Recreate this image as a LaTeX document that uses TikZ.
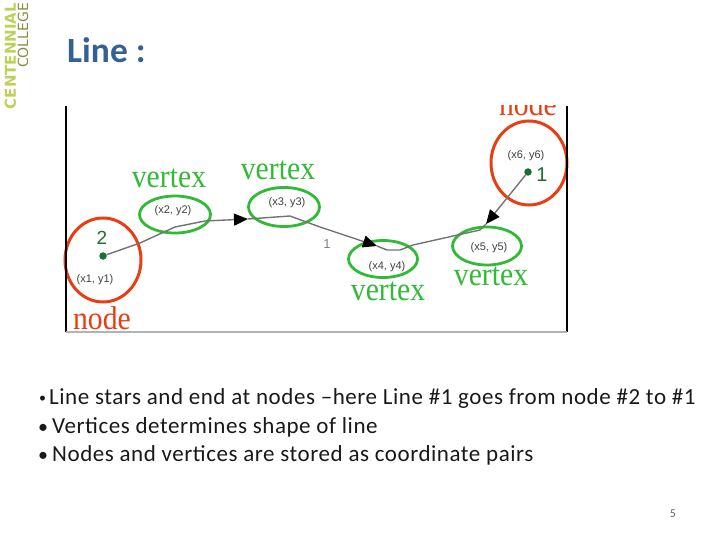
\documentclass[tikz,border=0pt]{standalone}
\usepackage{fontspec}
\setmainfont{Carlito}
\newfontfamily\bodyfont[LetterSpace=2.4]{Carlito}
\newfontfamily\serifpart[FakeStretch=0.9]{Liberation Serif}
\newfontfamily\logofont{DejaVu Sans}
\newfontfamily\smallfont{Liberation Sans}
\usetikzlibrary{arrows.meta,shapes.geometric}
\definecolor{titleblue}{RGB}{54,96,146}
\definecolor{nodered}{RGB}{232,62,20}
\definecolor{vertgreen}{RGB}{50,185,55}
\definecolor{dotgreen}{RGB}{30,110,50}
\definecolor{logogreen}{RGB}{190,208,90}
\definecolor{logoolive}{RGB}{140,140,70}
\tikzset{
  redring/.style={draw=nodered,line width=3pt,ellipse,inner sep=0pt},
  greenring/.style={draw=vertgreen,line width=2.8pt,ellipse,inner sep=0pt},
  dot/.style={circle,fill=dotgreen,inner sep=0pt,minimum size=7.5pt},
  serifword/.style={font=\serifpart\fontsize{33}{33}\selectfont,inner sep=0pt},
  coordtext/.style={font=\smallfont\fontsize{11}{11}\selectfont,text=black!75,inner sep=0pt},
  linetext/.style={font=\bodyfont\fontsize{23}{24}\selectfont,text=black!90,inner sep=0pt,anchor=base west},
  bulletmark/.style={font=\fontsize{20}{24}\selectfont,text=black!90,inner sep=0pt,anchor=base west},
  seg/.style={draw=black!55,line width=1.4pt},
  arrowseg/.style={seg,-{Triangle[black,length=14pt,width=12pt]}}
}
\begin{document}
\begin{tikzpicture}[x=1pt,y=-1pt]
\useasboundingbox (0,0) rectangle (720,540);

\node[rotate=90,font=\logofont\bfseries\fontsize{15}{15}\selectfont,text=logogreen,inner sep=0pt] (centennial) at (10.5,56) {CENTENNIAL};
\node[rotate=90,font=\logofont\fontsize{14}{15}\selectfont,text=logoolive,inner sep=0pt] (college) at (23,35.5) {COLLEGE};
\node[font=\bfseries\fontsize{35.5}{36}\selectfont,text=titleblue,inner sep=0pt,anchor=base west] (title) at (67,63) {Line :};

% rings
\node[redring,minimum width=76pt,minimum height=84pt] (nodetwo) at (103,260) {};
\node[redring,minimum width=76pt,minimum height=84pt] (nodeone) at (529,163) {};
\node[greenring,minimum width=71pt,minimum height=37pt] (verttwo) at (175,214.5) {};
\node[greenring,minimum width=71pt,minimum height=39pt] (vertthree) at (284,207) {};
\node[greenring,minimum width=69pt,minimum height=37pt] (vertfour) at (383,259) {};
\node[greenring,minimum width=69pt,minimum height=38pt] (vertfive) at (487,246) {};

% frame
\draw[black,line width=2.5pt] (66,106) -- (66,332);
\draw[black,line width=2.5pt] (567,106) -- (567,332);
\draw[black!30,line width=1.2pt] (66,332) -- (567,332);

% line
\node[dot] (starttwo) at (103,256) {};
\node[dot] (endone) at (528,172) {};
\coordinate (wa) at (140,243);
\coordinate (wb) at (175,227);
\coordinate (wc) at (205,221);
\coordinate (wd) at (248,219);
\coordinate (we) at (290,216);
\coordinate (wf) at (320,227);
\coordinate (wg) at (377,246);
\coordinate (wh) at (387,250);
\coordinate (wi) at (400,250);
\coordinate (wj) at (413,245);
\coordinate (wk) at (480,230);
\coordinate (wl) at (486,224);
\draw[seg] (starttwo) -- (wa) -- (wb) -- (wc);
\draw[arrowseg] (wc) -- (wd);
\draw[seg] (wd) -- (we) -- (wf);
\draw[arrowseg] (wf) -- (wg);
\draw[seg] (wg) -- (wh) -- (wi) -- (wj) -- (wk) -- (wl);
\draw[arrowseg] (endone) -- (wl);

% labels
\node[text=dotgreen,font=\smallfont\fontsize{19}{19}\selectfont,inner sep=0pt] (numtwo) at (102,238) {2};
\node[text=dotgreen,font=\smallfont\fontsize{20}{20}\selectfont,inner sep=0pt] (numone) at (542,175) {1};
\node[text=black!50,font=\smallfont\fontsize{13}{13}\selectfont,inner sep=0pt] (numline) at (327,244) {1};
\node[coordtext] (xyone) at (95,280) {(x1, y1)};
\node[coordtext] (xytwo) at (173,211) {(x2, y2)};
\node[coordtext] (xythree) at (287,203) {(x3, y3)};
\node[coordtext] (xyfour) at (387,267) {(x4, y4)};
\node[coordtext] (xyfive) at (489,248) {(x5, y5)};
\node[coordtext] (xysix) at (526,156) {(x6, y6)};
\node[serifword,text=vertgreen] (wordtwo) at (169,178) {vertex};
\node[serifword,text=vertgreen] (wordthree) at (278,170) {vertex};
\node[serifword,text=vertgreen] (wordfour) at (388,291) {vertex};
\node[serifword,text=vertgreen] (wordfive) at (491,276) {vertex};
\node[serifword,text=nodered] (wordleft) at (102,318) {node};
\begin{scope}
\clip (470,106) rectangle (565,130);
\node[serifword,text=nodered] (wordright) at (528,104) {node};
\end{scope}

% text
\node[bulletmark,font=\fontsize{14}{14}\selectfont] (bulone) at (39,402) {•};
\node[linetext] (lineone) at (49,404) {Line stars and end at nodes –here Line \#1 goes from node \#2 to \#1};
\node[bulletmark] (bultwo) at (38,433) {•};
\node[linetext] (linetwo) at (52,433) {Vertices determines shape of line};
\node[bulletmark] (bulthree) at (38,461) {•};
\node[linetext] (linethree) at (52,461) {Nodes and vertices are stored as coordinate pairs};
\node[font=\fontsize{12}{12}\selectfont,text=black!60,inner sep=0pt] (pagenum) at (673,514) {5};
\end{tikzpicture}
\end{document}
